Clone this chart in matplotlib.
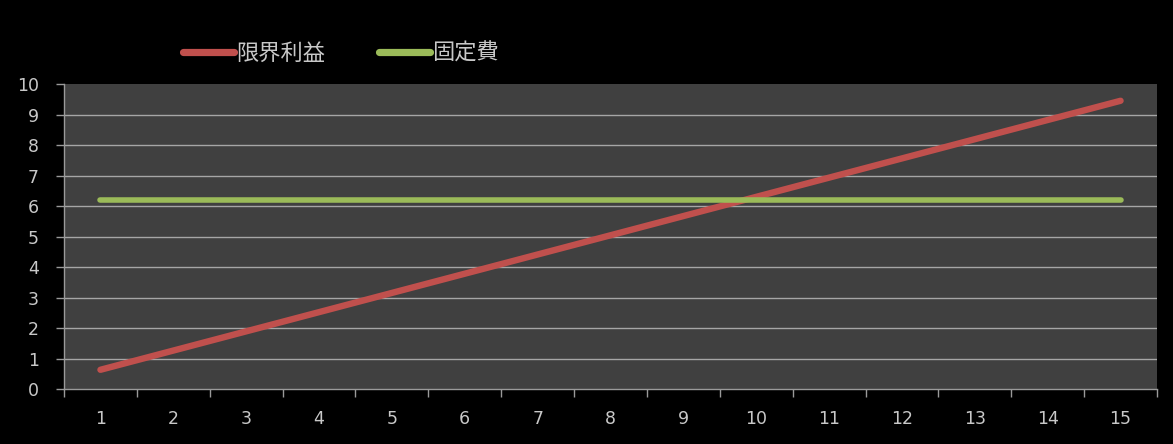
import matplotlib
matplotlib.use("Agg")
import matplotlib.pyplot as plt
from matplotlib.ticker import FixedLocator, NullFormatter

plt.rcParams['font.family'] = ['Noto Sans CJK JP', 'DejaVu Sans']

categories = [str(i) for i in range(1, 16)]
marginal_profit = [0.63, 1.26, 1.89, 2.52, 3.15, 3.78, 4.41, 5.04,
                   5.67, 6.30, 6.93, 7.56, 8.19, 8.82, 9.45]
fixed_cost = [6.2] * 15
series_names = ['限界利益', '固定費']
y_ticks = list(range(0, 11))

text_color = '#c8c8c8'
axis_color = '#9a9a9a'

fig = plt.figure(figsize=(11.73, 4.44), dpi=100, facecolor='black')
ax = fig.add_axes([64 / 1173, 1 - 389 / 444, (1157 - 64) / 1173, (389 - 84) / 444])
ax.set_facecolor('#404040')

x = list(range(len(categories)))
ax.plot(x, marginal_profit, color='#c0504d', lw=4.6, solid_capstyle='round',
        label=series_names[0], zorder=3)
ax.plot(x, fixed_cost, color='#9bbb59', lw=4.0, solid_capstyle='round',
        label=series_names[1], zorder=3)

ax.set_xlim(-0.5, len(categories) - 0.5)
ax.set_ylim(0, 10)

ax.set_yticks(y_ticks)
ax.set_yticklabels([str(v) for v in y_ticks])
for v in y_ticks[1:-1]:
    ax.axhline(v, color='#a6a6a6', lw=1.0, zorder=1)

ax.xaxis.set_major_locator(FixedLocator(x))
ax.set_xticklabels(categories)
ax.xaxis.set_minor_locator(FixedLocator([i + 0.5 for i in range(-1, len(categories))]))
ax.xaxis.set_minor_formatter(NullFormatter())
ax.tick_params(axis='x', which='major', length=0, pad=15, colors=text_color, labelsize=12.5)
ax.tick_params(axis='x', which='minor', length=6, width=1, color=axis_color)
ax.tick_params(axis='y', length=6, width=1, color=axis_color, labelcolor=text_color,
               labelsize=12.5, pad=12)
for lbl in ax.get_xticklabels() + ax.get_yticklabels():
    lbl.set_family(['DejaVu Sans'])

for side in ('top', 'right'):
    ax.spines[side].set_visible(False)
for side in ('left', 'bottom'):
    ax.spines[side].set_color(axis_color)
    ax.spines[side].set_linewidth(1)

leg = fig.legend(loc='center left', bbox_to_anchor=(183 / 1173, 1 - 53 / 444),
                 ncol=2, frameon=False, handlelength=2.3, handletextpad=0.1,
                 columnspacing=2.4, fontsize=16, borderpad=0, borderaxespad=0)
for t in leg.get_texts():
    t.set_color(text_color)
for h in leg.get_lines():
    h.set_linewidth(5.2)

fig.savefig('out.png', dpi=100, facecolor='black')
